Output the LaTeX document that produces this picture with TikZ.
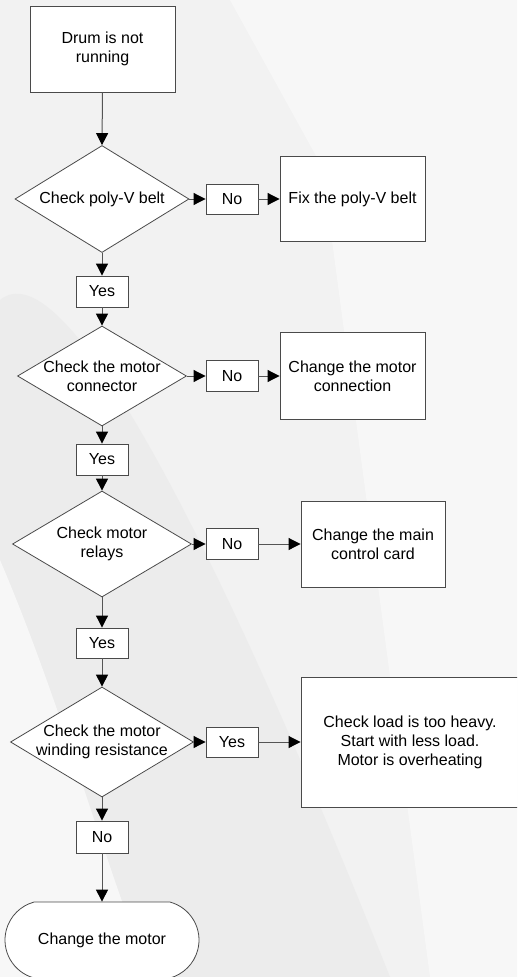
\documentclass[tikz,border=0pt]{standalone}
\usepackage{fontspec}
\setmainfont{Liberation Sans}
\usetikzlibrary{shapes.geometric,shapes.misc,arrows.meta}
\definecolor{bordc}{HTML}{4A4A4A}
\definecolor{linec}{HTML}{555555}
\definecolor{bgbase}{HTML}{F2F2F2}
\definecolor{bgdark}{HTML}{ECECEC}
\definecolor{bglight}{HTML}{F7F7F7}
\begin{document}
\begin{tikzpicture}[x=1pt,y=-1pt,
  txt/.style={font=\fontsize{16}{19}\selectfont, align=center, inner sep=0pt},
  box/.style={txt, draw=bordc, fill=white, line width=0.9pt},
  dia/.style={diamond, draw=bordc, fill=white, line width=0.8pt, inner sep=0pt},
  term/.style={txt, rounded rectangle, rounded rectangle arc length=150, draw=bordc, fill=white, line width=0.8pt},
  arr/.style={draw=linec, line width=1pt, -{Triangle[length=12pt,width=12pt,color=black]}}]
\useasboundingbox (0,0) rectangle (517,977);
\clip (0,0) rectangle (517,977);
% background
\fill[bgbase] (0,0) rectangle (517,977);
\fill[bglight] (300,0) -- (517,0) -- (517,977) -- (430,977) -- cycle;
\fill[bgdark] (0,300) .. controls (60,250) and (200,500) .. (390,977) -- (0,977) -- cycle;
\fill[bglight] (0,560) .. controls (60,700) and (100,850) .. (150,977) -- (0,977) -- cycle;
\fill[bglight] (230,0) -- (300,0) -- (517,420) -- (517,520) -- cycle;
% nodes
\node[box, minimum width=145pt, minimum height=86pt] (start) at (102.5,49) {Drum is not\\running};
\node[dia, minimum width=174pt, minimum height=107pt] (d1) at (102,199) {};
\node[txt] (d1t) at (d1) {Check poly-V belt};
\node[box, minimum width=52pt, minimum height=30pt] (n1) at (232,199) {No};
\node[box, minimum width=145pt, minimum height=85pt] (b1) at (352.5,199) {Fix the poly-V belt};
\node[box, minimum width=52pt, minimum height=31pt] (y1) at (102,291.5) {Yes};

\node[dia, minimum width=169pt, minimum height=100pt] (d2) at (102,376) {};
\node[txt] (d2t) at (d2) {Check the motor\\connector};
\node[box, minimum width=52pt, minimum height=31pt] (n2) at (232,376) {No};
\node[box, minimum width=145pt, minimum height=87pt] (b2) at (352.5,376) {Change the motor\\connection};
\node[box, minimum width=52pt, minimum height=31pt] (y2) at (102,459.5) {Yes};

\node[dia, minimum width=179pt, minimum height=106pt] (d3) at (102,544) {};
\node[txt] (d3t) at (d3) {Check motor\\relays};
\node[box, minimum width=52pt, minimum height=31pt] (n3) at (232,544) {No};
\node[box, minimum width=144pt, minimum height=86pt] (b3) at (373,544) {Change the main\\control card};
\node[box, minimum width=52pt, minimum height=30pt] (y3) at (102,643) {Yes};

\node[dia, minimum width=183pt, minimum height=110pt] (d4) at (102,742) {};
\node[txt] (d4t) at (d4) {Check the motor\\winding resistance};
\node[box, minimum width=52pt, minimum height=30pt] (y4) at (232,742) {Yes};
\node[box, minimum width=218pt, minimum height=130pt] (b4) at (410,742) {Check load is too heavy.\\Start with less load.\\Motor is overheating};
\node[box, minimum width=52pt, minimum height=32pt] (n4) at (102,837) {No};
\node[term, minimum width=194pt, minimum height=76pt] (end) at (102,940) {Change the motor};
% connectors
\draw[arr] (start.south) -- (d1.north);
\draw[arr] (d1.east) -- (n1.west);
\draw[arr] (n1.east) -- (b1.west);
\draw[arr] (d1.south) -- (y1.north);
\draw[arr] (y1.south) -- (d2.north);
\draw[arr] (d2.east) -- (n2.west);
\draw[arr] (n2.east) -- (b2.west);
\draw[arr] (d2.south) -- (y2.north);
\draw[arr] (y2.south) -- (d3.north);
\draw[arr] (d3.east) -- (n3.west);
\draw[arr] (n3.east) -- (b3.west);
\draw[arr] (d3.south) -- (y3.north);
\draw[arr] (y3.south) -- (d4.north);
\draw[arr] (d4.east) -- (y4.west);
\draw[arr] (y4.east) -- (b4.west);
\draw[arr] (d4.south) -- (n4.north);
\draw[arr] (n4.south) -- (end.north);
\end{tikzpicture}
\end{document}
